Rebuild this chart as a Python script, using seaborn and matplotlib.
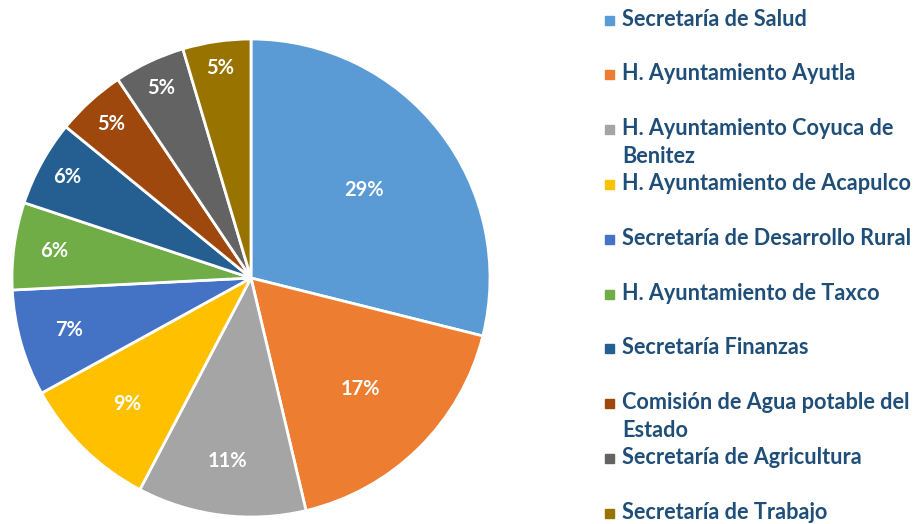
import textwrap
import numpy as np
import matplotlib
matplotlib.use("Agg")
import matplotlib.pyplot as plt
import seaborn as sns

# ---- data ----
categories = [
    "Secretaría de Salud",
    "H. Ayuntamiento Ayutla",
    "H. Ayuntamiento Coyuca de Benitez",
    "H. Ayuntamiento de Acapulco",
    "Secretaría de Desarrollo Rural",
    "H. Ayuntamiento de Taxco",
    "Secretaría Finanzas",
    "Comisión de Agua potable del Estado",
    "Secretaría de Agricultura",
    "Secretaría de Trabajo",
]
values = [28.9, 17.4, 11.4, 9.3, 7.2, 5.9, 5.8, 4.7, 4.8, 4.6]

# ---- style ----
colors = ["#5B9BD5", "#ED7D31", "#A5A5A5", "#FFC000", "#4472C4",
          "#70AD47", "#255E91", "#9E480E", "#636363", "#997300"]
label_r = [0.60, 0.65, 0.77, 0.74, 0.79, 0.83, 0.88, 0.87, 0.88, 0.89]
text_color = "#1F4E79"

sns.set_theme(style="white")
plt.rcParams["font.family"] = ["Lato", "DejaVu Sans"]
palette = sns.color_palette(colors)

W, H = 924, 524
fig = plt.figure(figsize=(W / 100, H / 100), dpi=100)
cx, cy, R = 251, 278, 239
ax = fig.add_axes([(cx - R) / W, (H - cy - R) / H, 2 * R / W, 2 * R / H])

wedges, texts, autotexts = ax.pie(
    values, colors=palette, startangle=90, counterclock=False,
    autopct="%.0f%%", pctdistance=0.6,
    wedgeprops=dict(edgecolor="white", linewidth=2.0),
    textprops=dict(color="white", fontsize=14.5, fontweight="bold"),
)
for w, t, r in zip(wedges, autotexts, label_r):
    ang = np.deg2rad((w.theta1 + w.theta2) / 2)
    t.set_position((r * np.cos(ang), r * np.sin(ang)))
    t.set_ha("center")
    t.set_va("center")
ax.set_xlim(-1.0, 1.0)
ax.set_ylim(-1.0, 1.0)
ax.set_aspect("equal")
ax.axis("off")

# ---- legend (manual, to mirror the layout) ----
top_y = 20
step = 54.8
for i, (cat, col) in enumerate(zip(categories, palette)):
    y = top_y + i * step
    fig.patches.append(plt.Rectangle((605 / W, (H - y - 4.5) / H), 9 / W, 9 / H,
                                     transform=fig.transFigure, color=col))
    label = "\n".join(textwrap.wrap(cat, 30))
    fig.text(622 / W, (H - y + 11.5) / H, label, ha="left", va="top",
             fontsize=15.6, fontweight="bold", color=text_color, linespacing=1.38)

fig.savefig("out.png", dpi=100)
